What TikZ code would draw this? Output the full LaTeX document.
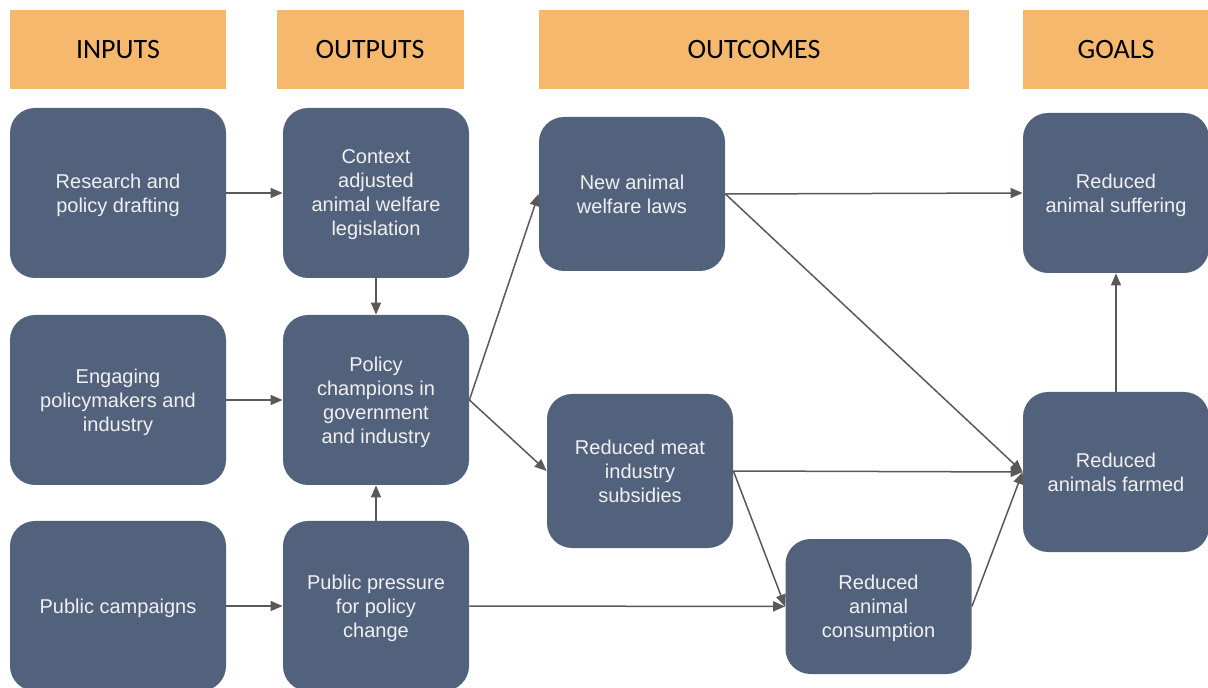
\documentclass[tikz,border=0pt]{standalone}
\usepackage{fontspec}
\setmainfont{Liberation Sans}
\newfontfamily\headfont{Carlito}
\usetikzlibrary{arrows.meta}

\definecolor{boxblue}{HTML}{53627C}
\definecolor{headorange}{HTML}{F5B86C}
\definecolor{arrowgray}{HTML}{595959}

\tikzset{
  head/.style={fill=headorange, minimum height=39.5pt, inner sep=0pt,
    font=\headfont\fontsize{14}{17}\selectfont},
  card/.style={fill=boxblue, rounded corners=12.5pt, text=white!94!black,
    minimum width=93pt, minimum height=85pt, inner sep=0pt, align=center,
    text depth=0pt, font=\fontsize{10}{12}\selectfont},
  link/.style={draw=arrowgray, line width=0.75pt,
    -{Triangle[length=6pt,width=5pt]}}
}

\begin{document}
\begin{tikzpicture}[x=0.5pt, y=-0.5pt]
\useasboundingbox (0,0) rectangle (1208,688);

\node[head, minimum width=108pt] (hin) at (118,49.5) {INPUTS};
\node[head, minimum width=93.5pt] (hout) at (370,49.5) {OUTPUTS};
\node[head, minimum width=215pt] (hoc) at (754,49.5) {OUTCOMES};
\node[head, minimum width=93.5pt] (hgo) at (1116,49.5) {GOALS};

\node[card, minimum width=108pt] (res) at (118,193) {Research and\\policy drafting};
\node[card, minimum width=108pt] (eng) at (118,400) {Engaging\\policymakers and\\industry};
\node[card, minimum width=108pt] (cam) at (118,606) {Public campaigns};

\node[card] (leg) at (376,193) {Context\\adjusted\\animal welfare\\legislation};
\node[card] (cha) at (376,400) {Policy\\champions in\\government\\and industry};
\node[card] (pre) at (376,606) {Public pressure\\for policy\\change};

\node[card, minimum height=77pt] (law) at (632,194) {New animal\\welfare laws};
\node[card, minimum height=77pt] (sub) at (640,471) {Reduced meat\\industry\\subsidies};
\node[card, minimum height=67.5pt] (con) at (878.5,606.5) {Reduced\\animal\\consumption};

\node[card, minimum height=80pt] (suf) at (1116,193) {Reduced\\animal suffering};
\node[card, minimum height=80pt] (far) at (1116,472) {Reduced\\animals farmed};

\draw[link] (res) to (leg);
\draw[link] (eng) to (cha);
\draw[link] (cam) to (pre);
\draw[link] (leg) to (cha);
\draw[link] (pre) to (cha);
\draw[link] (cha.east) to (law.west);
\draw[link] (cha.east) to (sub.west);
\draw[link] (pre) to (con);
\draw[link] (law.east) to (suf.west);
\draw[link] (law.east) to (far.west);
\draw[link] (sub.east) to (far.west);
\draw[link] (sub.east) to (con.west);
\draw[link] (con.east) to (far.west);
\draw[link] (far) to (suf);
\end{tikzpicture}
\end{document}
